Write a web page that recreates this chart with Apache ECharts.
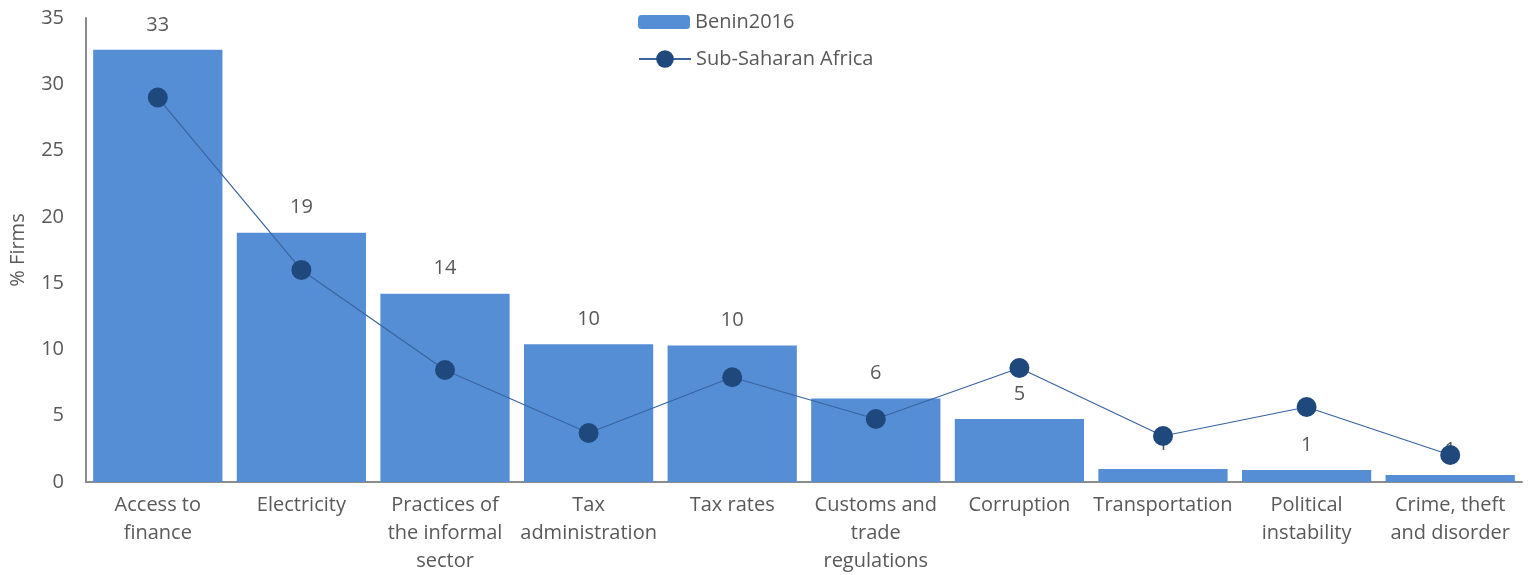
<!DOCTYPE html>
<html>
<head>
<meta charset="utf-8">
<script src="https://cdn.jsdelivr.net/npm/echarts@6/dist/echarts.min.js"></script>
<style>
  html, body { margin: 0; padding: 0; background: #fff; }
  #chart { width: 1528px; height: 575px; }
</style>
</head>
<body>
<div id="chart"></div>
<script>
const categories = ['Access to\nfinance', 'Electricity', 'Practices of\nthe informal\nsector', 'Tax\nadministration', 'Tax rates',
    'Customs and\ntrade\nregulations', 'Corruption', 'Transportation', 'Political\ninstability', 'Crime, theft\nand disorder'];
const benin = [32.6, 18.8, 14.2, 10.4, 10.3, 6.3, 4.75, 0.98, 0.9, 0.53];
const ssa = [29.0, 16.0, 8.45, 3.7, 7.9, 4.75, 8.6, 3.47, 5.66, 2.04];
const yTicks = { min: 0, max: 35, interval: 5 };

const font = 'Open Sans';
const textColor = '#595959';
const fs = 20;

const myChart = echarts.init(document.getElementById('chart'));
const option = {
    animation: false,
    textStyle: { fontFamily: font },
    grid: { left: 86, right: 6, top: 18, bottom: 93, outerBoundsMode: 'none', containLabel: false },
    legend: [
        {
            left: 633,
            top: 7,
            itemWidth: 52,
            itemHeight: 14,
            textStyle: { fontFamily: font, fontSize: fs, color: textColor },
            data: ['Benin2016']
        },
        {
            left: 633,
            top: 44,
            itemWidth: 52,
            itemHeight: 22,
            textStyle: { fontFamily: font, fontSize: fs, color: textColor },
            data: ['Sub-Saharan Africa']
        }
    ],
    xAxis: {
        type: 'category',
        data: categories,
        axisLine: { lineStyle: { color: '#8c8c8c', width: 2 } },
        axisTick: { show: false },
        axisLabel: { fontFamily: font, fontSize: fs, color: textColor, lineHeight: 28, margin: 9, interval: 0 }
    },
    yAxis: {
        type: 'value',
        min: yTicks.min,
        max: yTicks.max,
        interval: yTicks.interval,
        name: '% Firms',
        nameLocation: 'middle',
        nameGap: 58,
        nameTextStyle: { fontFamily: font, fontSize: fs, color: textColor },
        axisLine: { show: true, lineStyle: { color: '#8c8c8c', width: 2 } },
        axisTick: { show: false },
        splitLine: { show: false },
        axisLabel: { fontFamily: font, fontSize: fs, color: textColor, margin: 22 }
    },
    series: [
        {
            name: 'Benin2016',
            type: 'bar',
            data: benin,
            barCategoryGap: '10%',
            itemStyle: { color: '#558ed5' },
            label: {
                show: true,
                position: 'top',
                distance: 15,
                fontFamily: font,
                fontSize: fs,
                color: textColor,
                formatter: p => Math.round(p.value)
            }
        },
        {
            name: 'Sub-Saharan Africa',
            type: 'line',
            data: ssa,
            symbol: 'circle',
            symbolSize: 20,
            itemStyle: { color: '#1f497d' },
            lineStyle: { color: '#3a64a0', width: 1.2 },
            z: 3
        }
    ]
};
myChart.setOption(option);
</script>
</body>
</html>
